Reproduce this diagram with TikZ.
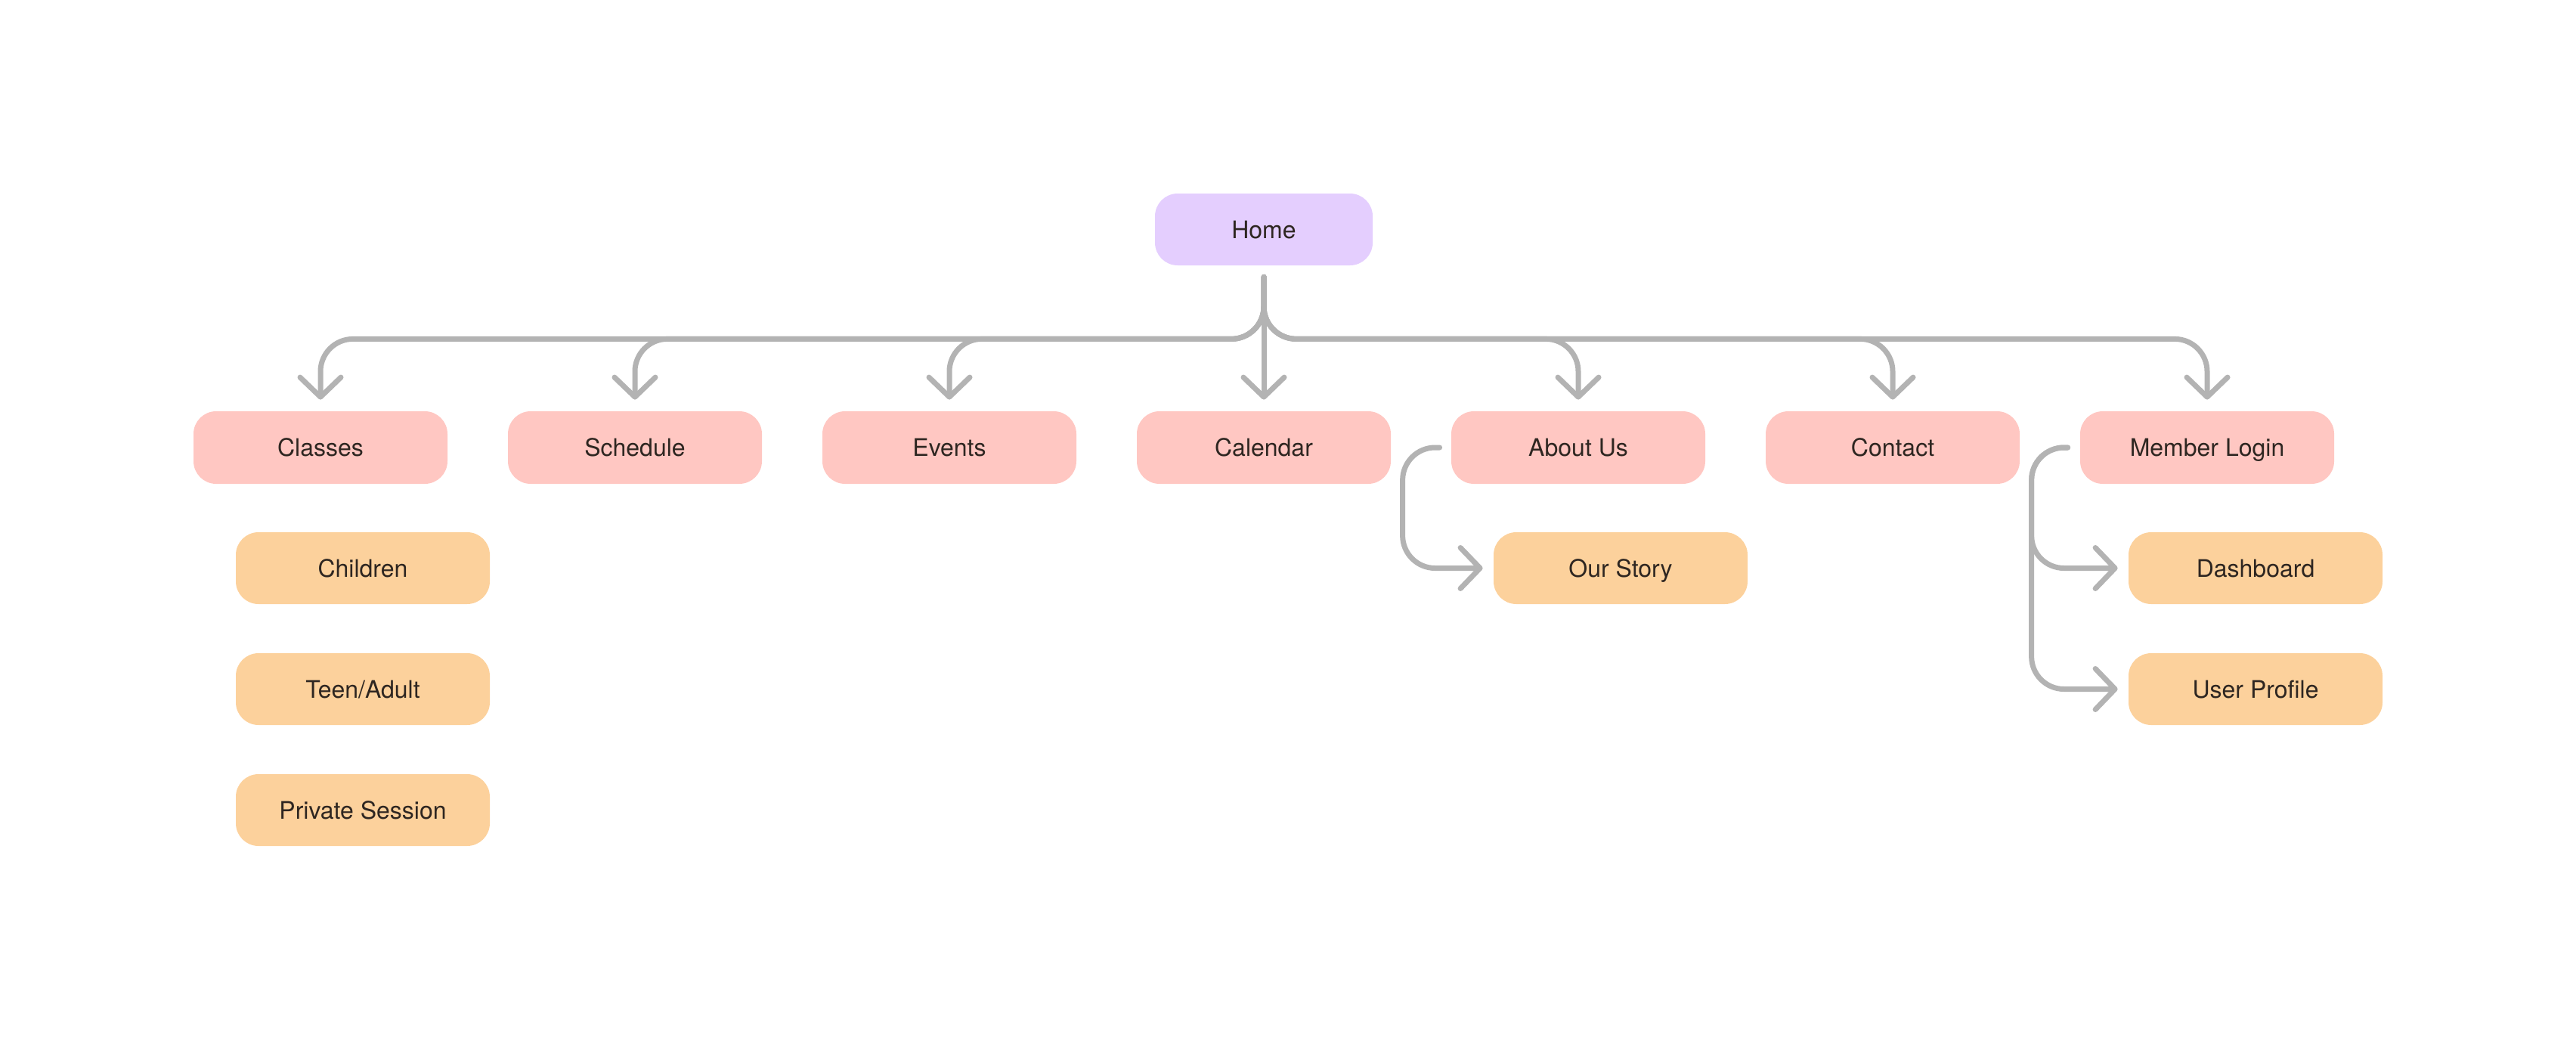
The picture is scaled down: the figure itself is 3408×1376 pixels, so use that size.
\documentclass[tikz,border=0pt]{standalone}
\usepackage{fontspec}
\setmainfont{TeX Gyre Heros}
\usetikzlibrary{arrows.meta}
\definecolor{homefill}{HTML}{E4CEFE}
\definecolor{pinkfill}{HTML}{FFC7C2}
\definecolor{orangefill}{HTML}{FCD19C}
\definecolor{linegray}{HTML}{B3B3B3}
\definecolor{txt}{HTML}{2E2621}
\begin{document}
\begin{tikzpicture}[x=0.5pt,y=-0.5pt,
 box/.style={rectangle, rounded corners=15pt, minimum width=168pt, minimum height=48pt, inner sep=0pt, text=txt, text height=11.5pt, text depth=0pt, font=\fontsize{16}{19}\selectfont},
 homebox/.style={box, fill=homefill, minimum width=144pt, minimum height=47.5pt},
 lvlone/.style={box, fill=pinkfill},
 lvltwo/.style={box, fill=orangefill, minimum height=47.5pt},
 conn/.style={draw=linegray, line width=3.5pt, line cap=round, rounded corners=21.5pt,
   -{Straight Barb[length=13pt,width=27pt,line cap=round,line join=round]}}
]
\useasboundingbox (0,0) rectangle (3408,1376);
\node[homebox] (home) at (1672,303.5) {Home};
\node[lvlone] (classes)  at (424,592)  {Classes};
\node[lvlone] (schedule) at (840,592)  {Schedule};
\node[lvlone] (events)   at (1256,592) {Events};
\node[lvlone] (calendar) at (1672,592) {Calendar};
\node[lvlone] (about)    at (2088,592) {About Us};
\node[lvlone] (contact)  at (2504,592) {Contact};
\node[lvlone] (member)   at (2920,592) {Member Login};
\node[lvltwo] (children) at (480,751.5)  {Children};
\node[lvltwo] (teen)     at (480,911.5)  {Teen/Adult};
\node[lvltwo] (private)  at (480,1071.5) {Private Session};
\node[lvltwo] (ourstory) at (2144,751.5) {Our Story};
\node[lvltwo] (dashboard) at (2984,751.5) {Dashboard};
\node[lvltwo] (profile)  at (2984,911.5) {User Profile};
\coordinate (hs) at ([yshift=-7.5pt]home.south);
\foreach \n in {classes,schedule,events,about,contact,member}
  \draw[conn] (hs) -- ++(0,82) -| ([yshift=7.5pt]\n.north);
\draw[conn] (hs) -- ([yshift=7.5pt]calendar.north);
\draw[conn] ([xshift=-7.5pt]about.west) -- ++(-49,0) |- ([xshift=-7pt]ourstory.west);
\draw[conn] ([xshift=-8pt]member.west) -- ++(-48,0) |- ([xshift=-7pt]dashboard.west);
\draw[conn] ([xshift=-8pt]member.west) -- ++(-48,0) |- ([xshift=-7pt]profile.west);
\end{tikzpicture}
\end{document}
